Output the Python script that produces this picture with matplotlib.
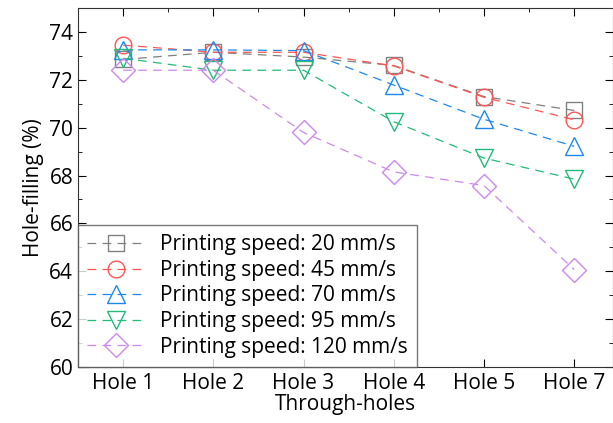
import matplotlib.pyplot as plt
from matplotlib.ticker import MultipleLocator

holes = ["Hole 1", "Hole 2", "Hole 3", "Hole 4", "Hole 5", "Hole 7"]

speed_20 = [72.85, 73.15, 72.95, 72.6, 71.3, 70.72]
speed_45 = [73.45, 73.15, 73.15, 72.58, 71.27, 70.33]
speed_70 = [73.25, 73.25, 73.22, 71.78, 70.35, 69.22]
speed_95 = [72.9, 72.4, 72.4, 70.25, 68.73, 67.85]
speed_120 = [72.4, 72.4, 69.8, 68.15, 67.58, 64.07]

labels = ["Printing speed: 20 mm/s", "Printing speed: 45 mm/s",
          "Printing speed: 70 mm/s", "Printing speed: 95 mm/s",
          "Printing speed: 120 mm/s"]
colors = ["#808080", "#ff5555", "#1e88ee", "#22bb77", "#cc88ee"]
markers = ["s", "o", "^", "v", "D"]
sizes = [11, 12, 13, 13, 12]

plt.rcParams['font.family'] = ['Open Sans', 'DejaVu Sans']

fig = plt.figure(figsize=(6.13, 4.23), dpi=100)
ax = fig.add_axes([78 / 613, 56 / 423, 1 - 78 / 613, 1 - 64 / 423])

x = list(range(len(holes)))
for ys, lab, c, m, s in zip([speed_20, speed_45, speed_70, speed_95, speed_120],
                            labels, colors, markers, sizes):
    ax.plot(x, ys, linestyle=(0, (7, 5)), lw=0.9, color=c, marker=m,
            markersize=s, markerfacecolor='none', markeredgecolor=c,
            markeredgewidth=1.0, label=lab)

ax.set_xlim(-0.5, 5.43)
ax.set_ylim(60, 75)
ax.set_xticks(x)
ax.set_xticklabels(holes)
ax.xaxis.set_minor_locator(MultipleLocator(0.5))
ax.yaxis.set_major_locator(MultipleLocator(2))
ax.yaxis.set_minor_locator(MultipleLocator(1))
ax.tick_params(which='both', direction='in', top=True, right=True, labelsize=15)
ax.tick_params(which='major', length=6)
ax.tick_params(which='minor', length=3)
ax.tick_params(axis='x', which='minor', bottom=False)
ax.tick_params(axis='x', pad=4)
for sp in ax.spines.values():
    sp.set_color('#333333')

ax.set_xlabel("Through-holes", fontsize=15, labelpad=0)
ax.set_ylabel("Hole-filling (%)", fontsize=15, labelpad=4)

leg = ax.legend(loc='lower left', fontsize=15, frameon=True, fancybox=False,
                borderaxespad=0, handlelength=2.7, labelspacing=0.22,
                borderpad=0.45, handletextpad=0.8)
leg.get_frame().set_edgecolor('#555555')
leg.get_frame().set_linewidth(1.0)

fig.savefig("out.png", dpi=100)
